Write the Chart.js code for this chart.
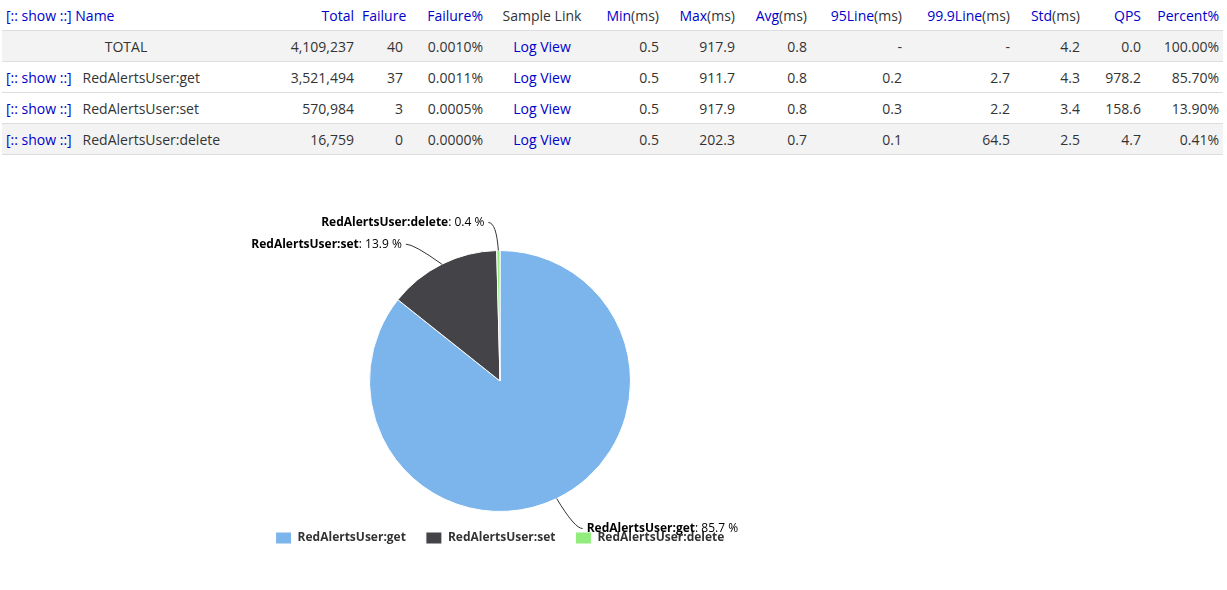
<!DOCTYPE html>
<html><head><meta charset="utf-8">
<script src="https://cdn.jsdelivr.net/npm/chart.js@4.4.0/dist/chart.umd.min.js"></script>
<style>
body{margin:0;background:#fff;font-family:"Open Sans",sans-serif;font-size:14px;color:#333;width:1227px;height:590px;overflow:hidden;position:relative}
table{position:absolute;left:2px;top:0;width:1221px;border-collapse:collapse;table-layout:fixed}
td,th{height:30px;padding:0 4px;text-align:right;font-weight:normal;white-space:nowrap;border-bottom:1px solid #ddd}
th{color:#00c;height:30px;border-bottom:1px solid #ddd}
th.dk{color:#333}
.g{background:#f3f3f3}
.l{text-align:left}.c{text-align:center}
a{color:#00c;text-decoration:none}
#wrap{position:absolute;left:0;top:160px;width:1000px;height:430px}
</style></head><body>
<table>
<colgroup><col style="width:248px"><col style="width:108px"><col style="width:49px"><col style="width:80px"><col style="width:110px"><col style="width:66px"><col style="width:76px"><col style="width:72px"><col style="width:95px"><col style="width:108px"><col style="width:70px"><col style="width:61px"><col style="width:78px"></colgroup>
<thead><tr><th class="l">[:: show ::] Name</th><th>Total</th><th>Failure</th><th>Failure%</th><th class="c dk">Sample Link</th><th>Min<span style="color:#333">(ms)</span></th><th>Max<span style="color:#333">(ms)</span></th><th>Avg<span style="color:#333">(ms)</span></th><th>95Line<span style="color:#333">(ms)</span></th><th>99.9Line<span style="color:#333">(ms)</span></th><th>Std<span style="color:#333">(ms)</span></th><th>QPS</th><th>Percent%</th></tr></thead>
<tbody id="tb"></tbody></table>
<div id="wrap"><canvas id="c"></canvas></div>
<script>
const names=["TOTAL","RedAlertsUser:get","RedAlertsUser:set","RedAlertsUser:delete"];
const totals=["4,109,237","3,521,494","570,984","16,759"];
const failures=["40","37","3","0"];
const failPct=["0.0010%","0.0011%","0.0005%","0.0000%"];
const mins=["0.5","0.5","0.5","0.5"];
const maxs=["917.9","911.7","917.9","202.3"];
const avgs=["0.8","0.8","0.8","0.7"];
const line95=["-","0.2","0.3","0.1"];
const line999=["-","2.7","2.2","64.5"];
const stds=["4.2","4.3","3.4","2.5"];
const qps=["0.0","978.2","158.6","4.7"];
const percents=["100.00%","85.70%","13.90%","0.41%"];
const pieLabels=["RedAlertsUser:get","RedAlertsUser:set","RedAlertsUser:delete"];
const pieValues=[85.7,13.9,0.4];
const pieColors=["#7cb5ec","#434348","#90ed7d"];
const rowBg=["g","","","g"];
let h="";
names.forEach((n,i)=>{
 const name=i==0?`<td class="c">${n}</td>`:`<td class="l"><a>[:: show ::]</a>&nbsp;&nbsp; ${n}</td>`;
 h+=`<tr class="${rowBg[i]}">${name}<td>${totals[i]}</td><td>${failures[i]}</td><td>${failPct[i]}</td><td class="c"><a>Log View</a></td><td>${mins[i]}</td><td>${maxs[i]}</td><td>${avgs[i]}</td><td>${line95[i]}</td><td>${line999[i]}</td><td>${stds[i]}</td><td>${qps[i]}</td><td>${percents[i]}</td></tr>`;
});
document.getElementById("tb").innerHTML=h;
const callouts={
 id:"callouts",
 afterDatasetsDraw(chart){
  const ctx=chart.ctx; const meta=chart.getDatasetMeta(0);
  const offs=[[18,30,1],[-28,-20,-1],[-2,-28,-1]];
  meta.data.forEach((arc,i)=>{
   const mid=(arc.startAngle+arc.endAngle)/2, r=arc.outerRadius;
   const x0=arc.x+Math.cos(mid)*r, y0=arc.y+Math.sin(mid)*r;
   const [dx,dy,side]=offs[i];
   const x1=x0+dx, y1=y0+dy, x2=x1+side*8;
   ctx.save();ctx.strokeStyle="#333";ctx.lineWidth=1;
   ctx.beginPath();ctx.moveTo(x0,y0);ctx.quadraticCurveTo(x1,y1,x2,y1);ctx.stroke();
   const b=pieLabels[i], v=": "+pieValues[i].toFixed(1)+" %";
   ctx.font="bold 12px 'Open Sans'";const wb=ctx.measureText(b).width;
   ctx.font="12px 'Open Sans'";const wv=ctx.measureText(v).width;
   let tx=side>0?x2+4:x2-4-wb-wv;
   ctx.textBaseline="middle";ctx.fillStyle="#000";
   ctx.font="bold 12px 'Open Sans'";ctx.fillText(b,tx,y1);
   ctx.font="12px 'Open Sans'";ctx.fillText(v,tx+wb,y1);
   ctx.restore();
  });
 }
};
new Chart(document.getElementById("c"),{
 type:"pie",
 data:{labels:pieLabels,datasets:[{data:pieValues,backgroundColor:pieColors,borderColor:"#fff",borderWidth:1}]},
 options:{responsive:true,maintainAspectRatio:false,animation:false,
  layout:{padding:{top:90,bottom:36}},
  plugins:{tooltip:{enabled:false},
   legend:{position:"bottom",labels:{boxWidth:16,boxHeight:12,padding:20,color:"#333",font:{family:"Open Sans",size:12,weight:"bold"}}}}},
 plugins:[callouts]
});
</script></body></html>
